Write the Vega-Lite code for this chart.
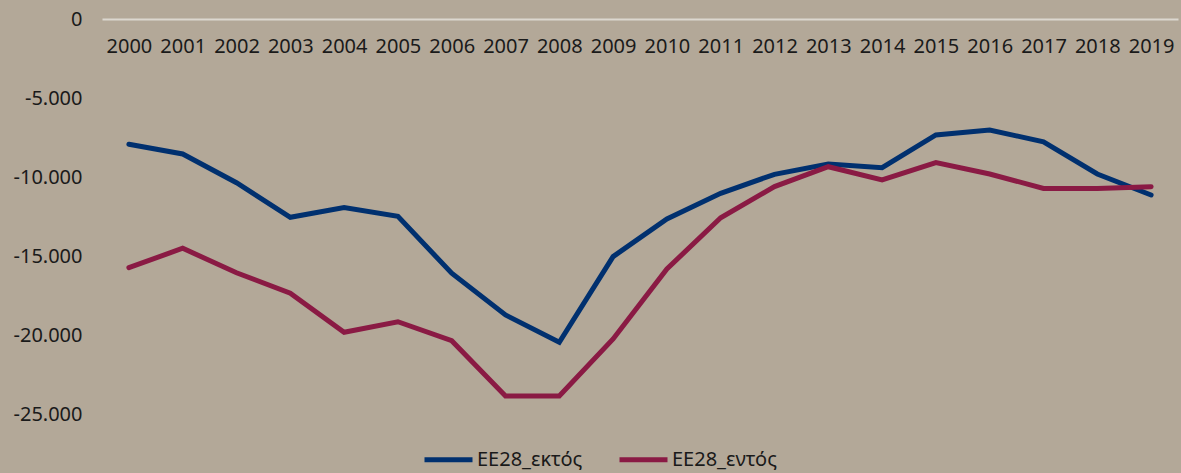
{
  "$schema": "https://vega.github.io/schema/vega-lite/v6.json",
  "width": 1076,
  "height": 395,
  "autosize": {"type": "none"},
  "padding": {"left": 102, "top": 19, "right": 3, "bottom": 59},
  "background": "#b3a898",
  "config": {
    "view": {"stroke": null},
    "font": "Noto Sans",
    "axis": {"labelFont": "Noto Sans", "labelColor": "#1a1a1a", "labelFontSize": 20},
    "legend": {"labelFont": "Noto Sans"}
  },
  "data": {
    "values": [
      {"year": "2000", "series": "EE28_εκτός", "value": -7930},
      {"year": "2001", "series": "EE28_εκτός", "value": -8540},
      {"year": "2002", "series": "EE28_εκτός", "value": -10360},
      {"year": "2003", "series": "EE28_εκτός", "value": -12550},
      {"year": "2004", "series": "EE28_εκτός", "value": -11940},
      {"year": "2005", "series": "EE28_εκτός", "value": -12490},
      {"year": "2006", "series": "EE28_εκτός", "value": -16090},
      {"year": "2007", "series": "EE28_εκτός", "value": -18730},
      {"year": "2008", "series": "EE28_εκτός", "value": -20460},
      {"year": "2009", "series": "EE28_εκτός", "value": -15040},
      {"year": "2010", "series": "EE28_εκτός", "value": -12660},
      {"year": "2011", "series": "EE28_εκτός", "value": -11030},
      {"year": "2012", "series": "EE28_εκτός", "value": -9830},
      {"year": "2013", "series": "EE28_εκτός", "value": -9180},
      {"year": "2014", "series": "EE28_εκτός", "value": -9410},
      {"year": "2015", "series": "EE28_εκτός", "value": -7340},
      {"year": "2016", "series": "EE28_εκτός", "value": -7030},
      {"year": "2017", "series": "EE28_εκτός", "value": -7770},
      {"year": "2018", "series": "EE28_εκτός", "value": -9810},
      {"year": "2019", "series": "EE28_εκτός", "value": -11140},
      {"year": "2000", "series": "EE28_εντός", "value": -15740},
      {"year": "2001", "series": "EE28_εντός", "value": -14510},
      {"year": "2002", "series": "EE28_εντός", "value": -16060},
      {"year": "2003", "series": "EE28_εντός", "value": -17360},
      {"year": "2004", "series": "EE28_εντός", "value": -19830},
      {"year": "2005", "series": "EE28_εντός", "value": -19160},
      {"year": "2006", "series": "EE28_εντός", "value": -20360},
      {"year": "2007", "series": "EE28_εντός", "value": -23860},
      {"year": "2008", "series": "EE28_εντός", "value": -23860},
      {"year": "2009", "series": "EE28_εντός", "value": -20250},
      {"year": "2010", "series": "EE28_εντός", "value": -15820},
      {"year": "2011", "series": "EE28_εντός", "value": -12580},
      {"year": "2012", "series": "EE28_εντός", "value": -10610},
      {"year": "2013", "series": "EE28_εντός", "value": -9350},
      {"year": "2014", "series": "EE28_εντός", "value": -10190},
      {"year": "2015", "series": "EE28_εντός", "value": -9090},
      {"year": "2016", "series": "EE28_εντός", "value": -9810},
      {"year": "2017", "series": "EE28_εντός", "value": -10720},
      {"year": "2018", "series": "EE28_εντός", "value": -10720},
      {"year": "2019", "series": "EE28_εντός", "value": -10610}
    ]
  },
  "mark": {"type": "line", "strokeWidth": 5, "strokeCap": "round"},
  "encoding": {
    "x": {
      "field": "year",
      "type": "ordinal",
      "scale": {"type": "point", "padding": 0.5},
      "axis": {
        "title": null,
        "orient": "bottom",
        "offset": -395,
        "ticks": false,
        "labelAngle": 0,
        "labelPadding": 17,
        "domainColor": "#dcd7cf",
        "domainWidth": 2
      }
    },
    "y": {
      "field": "value",
      "type": "quantitative",
      "scale": {"domain": [-25000, 0], "nice": false},
      "axis": {
        "title": null,
        "values": [0, -5000, -10000, -15000, -20000, -25000],
        "grid": false,
        "domain": false,
        "ticks": false,
        "labelPadding": 20,
        "labelExpr": "replace(replace(format(datum.value, ','), ',', '.'), '−', '-')"
      }
    },
    "color": {
      "field": "series",
      "type": "nominal",
      "scale": {"domain": ["EE28_εκτός", "EE28_εντός"], "range": ["#00306f", "#8a1a44"]},
      "legend": {
        "title": null,
        "orient": "none",
        "direction": "horizontal",
        "legendX": 320,
        "legendY": 414,
        "symbolType": "stroke",
        "symbolSize": 2304,
        "symbolStrokeWidth": 5,
        "labelFontSize": 20,
        "labelColor": "#1a1a1a",
        "labelOffset": 2,
        "columnPadding": 26
      }
    }
  }
}
